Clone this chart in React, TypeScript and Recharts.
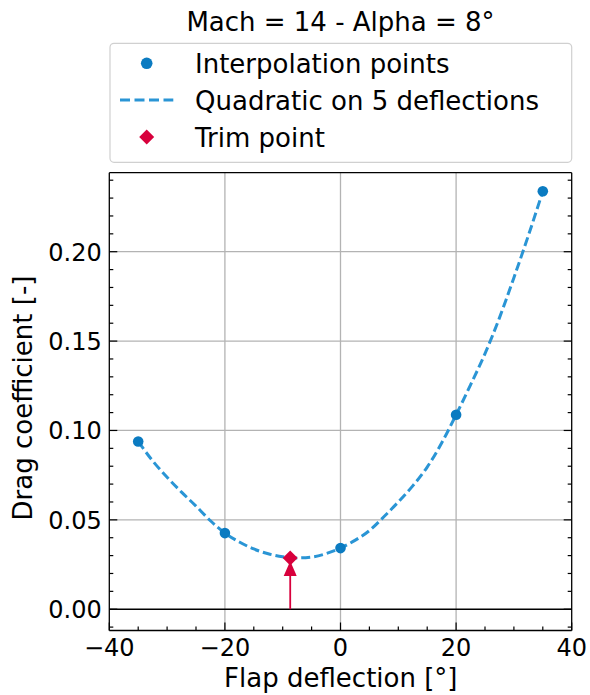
import React from "react";
import {
  ComposedChart,
  Line,
  Scatter,
  XAxis,
  YAxis,
  ReferenceLine,
} from "recharts";

// ---- data ----
const pointX = [-35, -20, 0, 20, 35];
const pointY = [0.0938, 0.0426, 0.0342, 0.1088, 0.2338];

const curveX = [
  -35, -32.5, -30, -27.5, -25, -22.5, -20, -17.5, -15, -12.5, -10, -7.5, -5, -2.5,
  0, 2.5, 5, 7.5, 10, 12.5, 15, 17.5, 20, 22.5, 25, 27.5, 30, 32.5, 35,
];
const curveY = [
  0.0938, 0.083, 0.0738, 0.0655, 0.0577, 0.0495, 0.0426, 0.0376, 0.0337, 0.031,
  0.0293, 0.0287, 0.0292, 0.0311, 0.0342, 0.0385, 0.044, 0.0517, 0.06, 0.069,
  0.0795, 0.093, 0.1088, 0.1255, 0.143, 0.163, 0.1855, 0.209, 0.2338,
];

const trimX = -8.7;
const trimY = 0.0286;

const xTicks = [-40, -35, -30, -25, -20, -15, -10, -5, 0, 5, 10, 15, 20, 25, 30, 35, 40];
const xMajor = [-40, -20, 0, 20, 40];
const xMajorLabels = ["\u221240", "\u221220", "0", "20", "40"];

const yTicks = [
  -0.01, 0, 0.01, 0.02, 0.03, 0.04, 0.05, 0.06, 0.07, 0.08, 0.09, 0.1, 0.11, 0.12,
  0.13, 0.14, 0.15, 0.16, 0.17, 0.18, 0.19, 0.2, 0.21, 0.22, 0.23, 0.24,
];
const yMajor = [0, 0.05, 0.1, 0.15, 0.2];
const yMajorLabels = ["0.00", "0.05", "0.10", "0.15", "0.20"];

const xGrid = [-20, 0, 20];
const yGrid = [0.05, 0.1, 0.15, 0.2];

const title = "Mach = 14 - Alpha = 8°";
const xLabel = "Flap deflection [°]";
const yLabel = "Drag coefficient [-]";
const legendLabels = ["Interpolation points", "Quadratic on 5 deflections", "Trim point"];

const xDomain = [-40, 40];
const yDomain = [-0.0119, 0.2442];

// ---- styles ----
const FONT = "DejaVu Sans";
const BLUE_PT = "#0b7bc1";
const BLUE_LINE = "#2a95d5";
const RED = "#d8003c";
const GRID = "#b3b3b3";

const curveData = curveX.map((x, i) => ({ x, y: curveY[i] }));
const pointData = pointX.map((x, i) => ({ x, y: pointY[i] }));
const trimData = [{ x: trimX, y: trimY }];

const majorIdx = (arr: number[], v: number) => arr.findIndex((m) => Math.abs(m - v) < 1e-9);

const BottomTick = (props: any) => {
  const { x, y, payload } = props;
  const i = majorIdx(xMajor, payload.value);
  const len = i >= 0 ? 8 : 4;
  return (
    <g>
      <line x1={x} x2={x} y1={y} y2={y - len} stroke="#000" strokeWidth={1.2} />
      {i >= 0 && (
        <text x={x} y={y + 25.5} textAnchor="middle" fontSize={24} fontFamily={FONT} fill="#000">
          {xMajorLabels[i]}
        </text>
      )}
    </g>
  );
};

const TopTick = (props: any) => {
  const { x, y, payload } = props;
  const i = majorIdx(xMajor, payload.value);
  const len = i >= 0 ? 8 : 4;
  return <line x1={x} x2={x} y1={y} y2={y + len} stroke="#000" strokeWidth={1.2} />;
};

const LeftTick = (props: any) => {
  const { x, y, payload } = props;
  const i = majorIdx(yMajor, payload.value);
  const len = i >= 0 ? 8 : 4;
  return (
    <g>
      <line x1={x} x2={x + len} y1={y} y2={y} stroke="#000" strokeWidth={1.2} />
      {i >= 0 && (
        <text x={x - 7.6} y={y + 9} textAnchor="end" fontSize={24} fontFamily={FONT} fill="#000">
          {yMajorLabels[i]}
        </text>
      )}
    </g>
  );
};

const RightTick = (props: any) => {
  const { x, y, payload } = props;
  const i = majorIdx(yMajor, payload.value);
  const len = i >= 0 ? 8 : 4;
  return <line x1={x} x2={x - len} y1={y} y2={y} stroke="#000" strokeWidth={1.2} />;
};

const Dot = (props: any) => {
  const { cx, cy } = props;
  return <circle cx={cx} cy={cy} r={5.3} fill={BLUE_PT} />;
};

const Diamond = (props: any) => {
  const { cx, cy } = props;
  const s = 7.5;
  return <polygon points={`${cx},${cy - s} ${cx + s},${cy} ${cx},${cy + s} ${cx - s},${cy}`} fill={RED} />;
};

const ArrowHead = (props: any) => {
  const { cx, cy } = props;
  return <polygon points={`${cx},${cy + 3} ${cx + 6.5},${cy + 18} ${cx - 6.5},${cy + 18}`} fill={RED} />;
};

const axisLine = { stroke: "#000", strokeWidth: 1.3 };

export default function App() {
  return (
    <div style={{ position: "absolute", left: 0, top: 0, width: 590, height: 695, background: "#fff" }}>
      <ComposedChart
        width={590}
        height={695}
        margin={{ top: 171.7, right: 17.3, bottom: 0, left: 0 }}
      >
        <XAxis
          xAxisId={0}
          dataKey="x"
          type="number"
          domain={xDomain}
          ticks={xTicks}
          interval={0}
          allowDataOverflow
          height={64.5}
          tickSize={0}
          tickMargin={0}
          tick={<BottomTick />}
          axisLine={axisLine}
        />
        <XAxis
          xAxisId="top"
          orientation="top"
          type="number"
          domain={xDomain}
          ticks={xTicks}
          interval={0}
          allowDataOverflow
          height={1}
          tickSize={0}
          tickMargin={0}
          tick={<TopTick />}
          axisLine={axisLine}
        />
        <YAxis
          yAxisId={0}
          dataKey="y"
          type="number"
          domain={yDomain}
          ticks={yTicks}
          interval={0}
          allowDataOverflow
          width={109.3}
          tickSize={0}
          tickMargin={0}
          tick={<LeftTick />}
          axisLine={axisLine}
        />
        <YAxis
          yAxisId="right"
          orientation="right"
          type="number"
          domain={yDomain}
          ticks={yTicks}
          interval={0}
          allowDataOverflow
          width={1}
          tickSize={0}
          tickMargin={0}
          tick={<RightTick />}
          axisLine={axisLine}
        />
        {xGrid.map((v) => (
          <ReferenceLine key={`gx${v}`} x={v} stroke={GRID} strokeWidth={1.3} />
        ))}
        {yGrid.map((v) => (
          <ReferenceLine key={`gy${v}`} y={v} stroke={GRID} strokeWidth={1.3} />
        ))}
        <ReferenceLine y={0} stroke="#000" strokeWidth={1.6} />
        <Line
          data={curveData}
          dataKey="y"
          type="monotone"
          stroke={BLUE_LINE}
          strokeWidth={3}
          strokeDasharray="9 4"
          dot={false}
          activeDot={false}
          isAnimationActive={false}
        />
        <Scatter data={pointData} dataKey="y" shape={<Dot />} isAnimationActive={false} />
        <ReferenceLine
          segment={[
            { x: trimX, y: 0 },
            { x: trimX, y: trimY },
          ]}
          stroke={RED}
          strokeWidth={1.8}
        />
        <Scatter data={trimData} dataKey="y" shape={<ArrowHead />} isAnimationActive={false} />
        <Scatter data={trimData} dataKey="y" shape={<Diamond />} isAnimationActive={false} />
      </ComposedChart>

      <svg
        width={590}
        height={695}
        style={{ position: "absolute", left: 0, top: 0, pointerEvents: "none" }}
      >
        <text x={340.5} y={30.7} textAnchor="middle" fontSize={26} fontFamily={FONT} fill="#000">
          {title}
        </text>
        <rect x={110} y={43.3} width={461.7} height={119} rx={4} ry={4} fill="#fff" stroke="#d0d0d0" strokeWidth={1.2} />
        <circle cx={146.7} cy={63.3} r={5.8} fill={BLUE_PT} />
        <line x1={120} x2={173.3} y1={100} y2={100} stroke={BLUE_LINE} strokeWidth={3} strokeDasharray="10 4.5" />
        <polygon points="146.7,129.5 154.2,137 146.7,144.5 139.2,137" fill={RED} />
        <text x={195} y={72.7} fontSize={26} fontFamily={FONT} fill="#000">{legendLabels[0]}</text>
        <text x={195} y={110} fontSize={26} fontFamily={FONT} fill="#000">{legendLabels[1]}</text>
        <text x={195} y={146.7} fontSize={26} fontFamily={FONT} fill="#000">{legendLabels[2]}</text>
        <text x={340.8} y={686.7} textAnchor="middle" fontSize={26} fontFamily={FONT} fill="#000">
          {xLabel}
        </text>
        <text
          x={0}
          y={0}
          transform="translate(31.7,398) rotate(-90)"
          textAnchor="middle"
          fontSize={26}
          fontFamily={FONT}
          fill="#000"
        >
          {yLabel}
        </text>
      </svg>
    </div>
  );
}
